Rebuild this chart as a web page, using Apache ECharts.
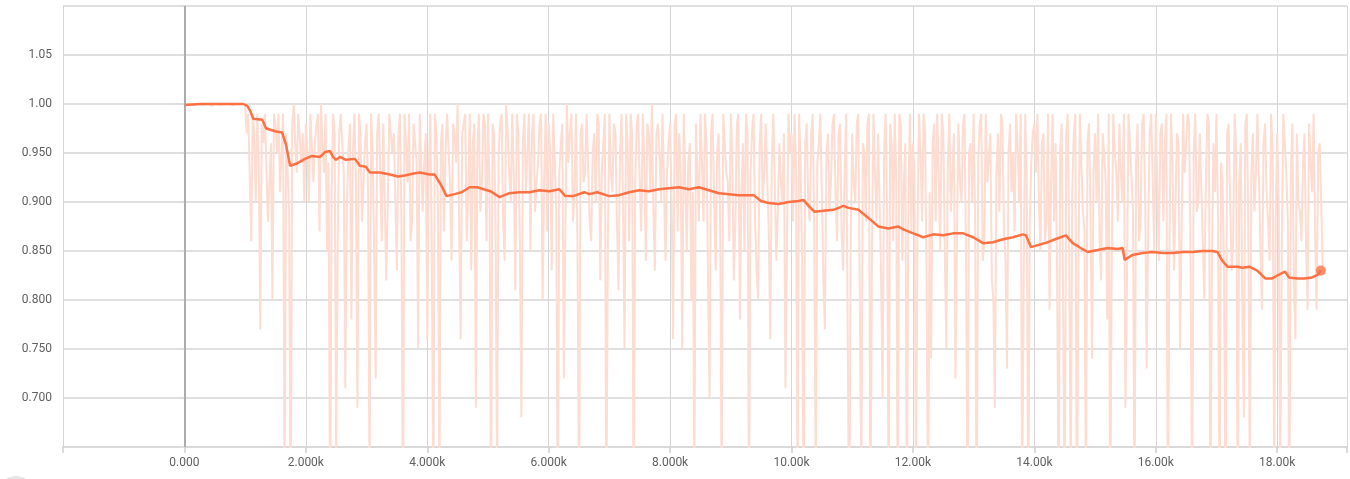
<!DOCTYPE html>
<html>
<head>
<meta charset="utf-8">
<script src="https://cdn.jsdelivr.net/npm/echarts@6/dist/echarts.min.js"></script>
<style>
html,body{margin:0;padding:0;background:#fff;}
#c{width:1350px;height:479px;}
</style>
</head>
<body>
<div id="c"></div>
<script>
// Raw (unsmoothed) values at steps 0, 50, 100, ...
const rawStepStart = 0;
const rawStepSize = 50;
const rawValues = [
  // 0 - 950
  0.999,1.00,1.00,0.999,1.00,1.00,0.999,1.00,1.00,0.998,1.00,1.00,0.999,1.00,1.00,1.00,0.999,1.00,1.00,1.00,
  // 1000 - 1950
  1.00,0.99,0.86,0.97,0.99,0.77,0.96,0.99,0.92,0.80,0.98,0.99,0.95,0.60,0.97,0.55,1.00,0.93,0.99,0.97,
  // 2000 - 2950
  0.98,0.90,0.99,0.96,0.99,1.00,0.93,0.85,0.55,0.99,0.64,0.97,0.99,0.71,0.95,0.78,0.99,0.69,0.97,0.92,
  // 3000 - 3950
  0.98,0.60,0.95,0.72,0.99,0.86,0.98,0.90,0.99,0.97,0.83,0.99,0.56,0.96,0.99,0.88,0.98,0.75,0.99,0.94,
  // 4000 - 4950
  0.76,0.99,0.58,0.97,0.60,0.98,0.95,0.99,0.84,0.97,1.00,0.76,0.98,0.86,0.99,0.96,0.69,0.99,0.92,0.98,
  // 5000 - 5950
  0.99,0.57,0.97,0.60,0.98,0.88,1.00,0.93,0.99,0.81,0.97,0.68,0.99,0.95,0.85,0.99,0.92,0.98,0.80,0.99,
  // 6000 - 6950
  0.98,0.83,0.99,0.55,0.96,0.72,1.00,0.97,0.88,0.99,0.58,0.98,0.93,0.99,0.86,0.97,0.99,0.82,0.96,0.57,
  // 7000 - 7950
  0.99,0.91,0.97,0.81,0.99,0.75,0.96,0.99,0.55,0.98,0.92,0.99,0.84,0.97,1.00,0.83,0.98,0.90,0.99,0.93,
  // 8000 - 8950
  0.98,0.76,0.99,0.97,0.75,0.99,0.94,0.80,0.60,0.98,0.99,0.88,0.96,0.70,0.99,0.83,0.97,0.58,0.99,0.92,
  // 9000 - 9950
  0.99,0.82,0.98,0.78,0.96,0.99,0.56,0.97,0.88,0.80,0.99,0.93,0.98,0.76,0.99,0.84,0.96,0.90,0.71,0.99,
  // 10000 - 10950
  0.97,0.99,0.58,0.94,0.55,0.98,0.88,0.99,0.60,0.96,0.99,0.77,0.97,0.92,0.99,0.86,0.98,0.83,0.99,0.55,
  // 11000 - 11950
  0.97,0.90,0.99,0.60,0.95,0.98,0.56,0.99,0.88,0.97,0.70,0.99,0.58,0.96,0.99,0.55,0.98,0.92,0.57,0.99,
  // 12000 - 12950
  0.96,0.59,0.99,0.88,0.97,0.56,0.74,0.98,0.99,0.85,0.97,0.75,0.99,0.93,0.72,0.98,0.90,0.99,0.57,0.96,
  // 13000 - 13950
  0.99,0.55,0.98,0.84,0.99,0.92,0.82,0.69,0.97,0.99,0.87,0.73,0.98,0.95,0.99,0.90,0.58,0.99,0.56,0.94,
  // 14000 - 14950
  0.98,0.99,0.85,0.97,0.88,0.79,0.99,0.96,0.57,0.98,0.55,0.99,0.60,0.97,0.56,0.99,0.89,0.58,0.98,0.74,
  // 15000 - 15950
  0.97,0.99,0.82,0.95,0.78,0.56,0.99,0.93,0.98,0.90,0.69,0.99,0.96,0.58,0.98,0.88,0.99,0.73,0.97,0.92,
  // 16000 - 16950
  0.99,0.84,0.98,0.96,0.55,0.99,0.83,0.97,0.75,0.99,0.93,0.98,0.57,0.99,0.90,0.97,0.80,0.99,0.58,0.96,
  // 17000 - 17950
  0.99,0.57,0.92,0.55,0.98,0.83,0.99,0.56,0.96,0.68,0.99,0.60,0.97,0.93,0.99,0.79,0.98,0.88,0.99,0.62,
  // 18000 - 18750
  0.97,0.60,0.99,0.93,0.56,0.98,0.76,0.90,0.86,0.97,0.79,0.94,0.99,0.79,0.96,0.83
];
// Raw values at the in-between steps 25, 75, 125, ...
const rawMidValues = [
  // 25 - 975
  1.00,1.00,0.999,1.00,1.00,1.00,1.00,0.999,1.00,1.00,1.00,0.999,1.00,1.00,1.00,1.00,1.00,0.999,1.00,1.00,
  // 1025 - 1975
  0.97,0.93,0.99,0.90,0.94,0.98,0.99,0.88,0.96,0.99,0.95,0.91,0.99,0.97,0.89,0.98,0.96,0.99,0.94,0.90,
  // 2025 - 2975
  0.95,0.99,0.92,0.98,0.87,0.96,0.99,0.94,0.91,0.97,0.86,0.99,0.93,0.89,0.98,0.95,0.92,0.99,0.88,0.96,
  // 3025 - 3975
  0.91,0.99,0.85,0.97,0.93,0.98,0.82,0.99,0.95,0.90,0.97,0.88,0.99,0.92,0.86,0.98,0.94,0.99,0.89,0.97,
  // 4025 - 4975
  0.93,0.85,0.99,0.90,0.96,0.87,0.99,0.92,0.98,0.94,0.88,0.97,0.99,0.91,0.83,0.98,0.95,0.89,0.99,0.86,
  // 5025 - 5975
  0.92,0.98,0.88,0.95,0.99,0.84,0.97,0.90,0.93,0.99,0.86,0.96,0.91,0.99,0.97,0.89,0.94,0.99,0.92,0.87,
  // 6025 - 6975
  0.95,0.99,0.89,0.93,0.98,0.87,0.94,0.99,0.91,0.85,0.97,0.92,0.99,0.88,0.95,0.90,0.98,0.93,0.99,0.86,
  // 7025 - 7975
  0.93,0.98,0.88,0.95,0.90,0.99,0.86,0.97,0.92,0.99,0.87,0.94,0.98,0.91,0.89,0.97,0.95,0.99,0.84,0.96,
  // 8025 - 8975
  0.90,0.98,0.87,0.93,0.99,0.85,0.96,0.91,0.98,0.88,0.94,0.99,0.82,0.97,0.90,0.95,0.88,0.99,0.93,0.86,
  // 9025 - 9975
  0.94,0.88,0.99,0.91,0.85,0.97,0.93,0.99,0.83,0.96,0.90,0.98,0.87,0.94,0.99,0.89,0.92,0.97,0.85,0.95,
  // 10025 - 10975
  0.88,0.93,0.99,0.84,0.96,0.90,0.97,0.86,0.94,0.99,0.82,0.95,0.89,0.98,0.91,0.97,0.87,0.93,0.99,0.85,
  // 11025 - 11975
  0.92,0.98,0.80,0.96,0.88,0.99,0.85,0.93,0.97,0.83,0.95,0.89,0.98,0.86,0.92,0.99,0.84,0.96,0.90,0.87,
  // 12025 - 12975
  0.93,0.87,0.95,0.99,0.82,0.91,0.96,0.88,0.93,0.99,0.85,0.94,0.89,0.97,0.86,0.92,0.98,0.84,0.95,0.90,
  // 13025 - 13975
  0.88,0.94,0.99,0.86,0.92,0.97,0.80,0.93,0.89,0.98,0.84,0.95,0.91,0.87,0.96,0.99,0.83,0.92,0.88,0.97,
  // 14025 - 14975
  0.93,0.90,0.96,0.86,0.99,0.92,0.88,0.83,0.95,0.79,0.97,0.85,0.91,0.99,0.82,0.94,0.87,0.96,0.89,0.93,
  // 15025 - 15975
  0.90,0.86,0.97,0.92,0.99,0.84,0.95,0.88,0.93,0.99,0.81,0.96,0.89,0.94,0.86,0.98,0.91,0.87,0.99,0.85,
  // 16025 - 16975
  0.92,0.97,0.88,0.99,0.85,0.94,0.90,0.96,0.87,0.93,0.99,0.82,0.95,0.89,0.97,0.86,0.92,0.98,0.84,0.91,
  // 17025 - 17975
  0.88,0.94,0.83,0.97,0.90,0.86,0.95,0.92,0.80,0.98,0.87,0.93,0.89,0.99,0.85,0.96,0.91,0.84,0.95,0.88,
  // 18025 - 18725
  0.90,0.85,0.96,0.88,0.93,0.82,0.97,0.89,0.94,0.86,0.98,0.91,0.87,0.95,0.90
];

// Smoothed curve
const smoothSteps = [
  0,263,969,1035,1084,1133,1281,1347,1511,1609,1675,1741,1839,1987,2102,2234,2316,2398,2447,2496,
  2562,2661,2808,2890,2989,3055,3219,3383,3515,3630,3777,3876,4040,4122,4221,4319,4451,4566,4697,4828,
  4927,5042,5190,5354,5518,5682,5847,6011,6175,6274,6405,6586,6668,6799,6996,7160,7325,7489,7653,7817,
  7981,8146,8310,8474,8639,8803,8967,9131,9378,9493,9624,9788,9952,10117,10199,10281,10379,10527,10691,10856,
  10938,11102,11201,11299,11431,11595,11759,11841,12005,12170,12334,12498,12662,12826,12991,13155,13319,13483,13648,13812,
  13861,13943,14058,14222,14387,14518,14633,14764,14879,15043,15208,15372,15454,15487,15619,15783,15947,16111,16275,16440,
  16604,16768,16932,17014,17096,17178,17343,17425,17540,17671,17802,17917,18032,18130,18196,18327,18442,18573,18672,18719
];
const smoothValues = [
  0.999,1.000,1.000,0.998,0.993,0.985,0.984,0.975,0.972,0.971,0.958,0.937,0.939,0.944,0.947,0.946,0.951,0.952,0.946,0.943,
  0.946,0.943,0.944,0.937,0.936,0.930,0.930,0.928,0.926,0.927,0.929,0.930,0.928,0.928,0.918,0.906,0.908,0.910,0.915,0.915,
  0.913,0.911,0.905,0.909,0.910,0.910,0.912,0.911,0.913,0.906,0.906,0.910,0.908,0.910,0.906,0.907,0.910,0.912,0.911,0.913,
  0.914,0.915,0.913,0.915,0.912,0.909,0.908,0.907,0.907,0.901,0.899,0.898,0.900,0.901,0.902,0.896,0.890,0.891,0.892,0.896,
  0.894,0.892,0.887,0.882,0.875,0.873,0.875,0.872,0.868,0.864,0.867,0.866,0.868,0.868,0.864,0.858,0.859,0.862,0.864,0.867,
  0.866,0.854,0.856,0.859,0.863,0.866,0.858,0.853,0.849,0.851,0.853,0.852,0.853,0.841,0.846,0.848,0.849,0.848,0.848,0.849,
  0.849,0.850,0.850,0.849,0.840,0.834,0.834,0.833,0.834,0.830,0.822,0.822,0.826,0.829,0.823,0.822,0.822,0.823,0.826,0.830
];

// Axis ticks
const xMin = -2000, xMax = 19150, xStep = 2000;
const yMin = 0.65, yMax = 1.10, yStep = 0.05;
const yLabelled = [0.70,0.75,0.80,0.85,0.90,0.95,1.00,1.05];

const rawData = [];
rawValues.forEach((v, i) => {
  const s = rawStepStart + i * rawStepSize;
  rawData.push([s, v]);
  if (i < rawMidValues.length) rawData.push([s + rawStepSize / 2, rawMidValues[i]]);
});
const smoothData = smoothSteps.map((s, i) => [s, smoothValues[i]]);
const lastPoint = smoothData[smoothData.length - 1];

const chart = echarts.init(document.getElementById('c'), null, {renderer: 'canvas'});
const labelFont = {color: '#616161', fontSize: 12, fontFamily: 'Roboto, "Open Sans", sans-serif'};

chart.setOption({
  animation: false,
  backgroundColor: '#fff',
  grid: {left: 63, right: 0, top: 6, bottom: 32, containLabel: false},
  xAxis: {
    type: 'value', min: xMin, max: xMax, interval: xStep,
    axisLine: {show: true, lineStyle: {color: '#d9d9d9', width: 2}},
    axisTick: {show: true, length: 6, lineStyle: {color: '#cfcfcf', width: 1.5}},
    axisLabel: Object.assign({margin: 10, formatter: function (v) {
      if (v < 0 || Math.abs(v % 2000) > 1e-6) return '';
      if (v === 0) return '0.000';
      const k = v / 1000;
      return (k < 10 ? k.toFixed(3) : k.toFixed(2)) + 'k';
    }}, labelFont),
    splitLine: {show: true, lineStyle: {color: '#d6d6d6', width: 1}}
  },
  yAxis: {
    type: 'value', min: yMin, max: yMax, interval: yStep,
    axisLine: {show: true, lineStyle: {color: '#cfcfcf', width: 1.5}},
    axisTick: {show: true, length: 6, lineStyle: {color: '#dddddd', width: 2}},
    axisLabel: Object.assign({margin: 11, formatter: function (v) {
      const hit = yLabelled.some(t => Math.abs(t - v) < 1e-6);
      if (!hit) return '';
      return v >= 0.999 ? v.toFixed(2) : v.toFixed(3);
    }}, labelFont),
    splitLine: {show: true, lineStyle: {color: '#e0e0e0', width: 2}}
  },
  series: [
    {
      name: 'raw', type: 'line', data: rawData, showSymbol: false, symbol: 'none',
      lineStyle: {color: '#fddcd1', width: 2}, clip: true, z: 2,
      markLine: {
        silent: true, symbol: 'none', label: {show: false},
        lineStyle: {color: '#9e9e9e', width: 1.5, type: 'solid'},
        data: [{xAxis: 0}]
      }
    },
    {
      name: 'smoothed', type: 'line', data: smoothData, showSymbol: false, symbol: 'none',
      lineStyle: {color: '#ff7043', width: 2.5}, clip: true, z: 3
    },
    {
      name: 'last', type: 'scatter', data: [lastPoint], symbol: 'circle', symbolSize: 10,
      itemStyle: {color: '#ff7043'}, z: 4
    }
  ],
  graphic: [
    {type: 'circle', shape: {cx: 16, cy: 496, r: 20}, style: {fill: '#e6e6e6'}, silent: true}
  ]
});
</script>
</body>
</html>
